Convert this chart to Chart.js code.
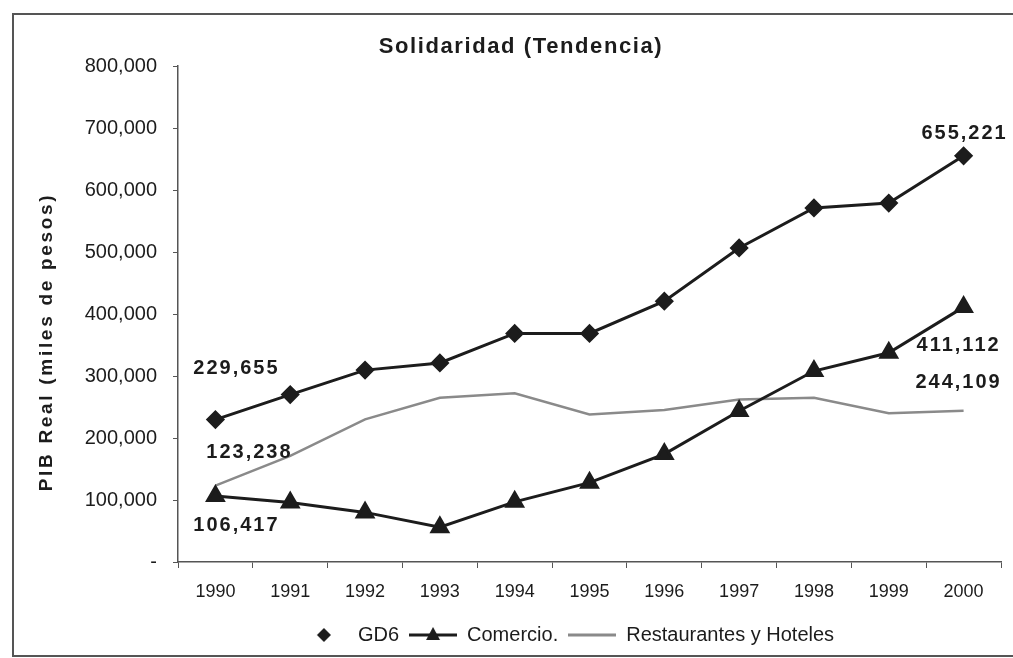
<!DOCTYPE html>
<html>
<head>
<meta charset="utf-8">
<script src="https://cdn.jsdelivr.net/npm/chart.js@4/dist/chart.umd.min.js"></script>
<style>
  html, body { margin: 0; padding: 0; background: #fff; }
  #wrap { width: 1013px; height: 658px; position: relative; }
</style>
</head>
<body>
<div id="wrap"><canvas id="chart" width="1013" height="658"></canvas></div>
<script>
const years = ['1990', '1991', '1992', '1993', '1994', '1995', '1996', '1997', '1998', '1999', '2000'];
const gd6 = [229655, 270000, 309500, 321000, 368600, 368600, 420600, 506500, 571000, 579000, 655221];
const comercio = [106417, 96000, 80000, 56000, 97000, 128000, 174000, 243600, 308000, 337500, 411112];
const restaurantes = [123238, 171000, 230000, 265000, 272000, 238000, 245000, 262000, 265000, 240000, 244109];
const yTicks = [0, 100000, 200000, 300000, 400000, 500000, 600000, 700000, 800000];

const FONT = '"Liberation Sans", Arial, sans-serif';
const INK = '#1c1c1c';
const GREY = '#8a8a8a';

// legend swatches, 48px wide like the line samples
function swatch(kind) {
    const c = document.createElement('canvas');
    c.width = 48; c.height = 20;
    const g = c.getContext('2d');
    if (kind !== 'diamond') {
        g.strokeStyle = kind === 'grey' ? GREY : INK;
        g.lineWidth = 3;
        g.beginPath(); g.moveTo(0, 10); g.lineTo(48, 10); g.stroke();
    }
    g.fillStyle = INK;
    if (kind === 'diamond') {
        g.beginPath(); g.moveTo(24, 3); g.lineTo(31, 10); g.lineTo(24, 17); g.lineTo(17, 10); g.closePath(); g.fill();
    } else if (kind === 'triangle') {
        g.beginPath(); g.moveTo(24, 2); g.lineTo(31, 15); g.lineTo(17, 15); g.closePath(); g.fill();
    }
    return c;
}
const swatches = [swatch('diamond'), swatch('triangle'), swatch('grey')];

// value labels next to the first and last points
const valueLabels = [
    {ds: 0, i: 0, dx: 21, dy: -51},
    {ds: 2, i: 0, dx: 34, dy: -33},
    {ds: 1, i: 0, dx: 21, dy: 29},
    {ds: 0, i: 10, dx: 1, dy: -22},
    {ds: 1, i: 10, dx: -5, dy: 38},
    {ds: 2, i: 10, dx: -5, dy: -28}
];

const frameAndText = {
    id: 'frameAndText',
    afterLayout(chart) {
        // legend sits centred under the plot, not the whole frame
        chart.legend.left = 130;
    },
    beforeDraw(chart) {
        const ctx = chart.ctx;
        ctx.save();
        ctx.fillStyle = '#fff';
        ctx.fillRect(0, 0, chart.width, chart.height);
        ctx.strokeStyle = '#555';
        ctx.lineWidth = 2;
        ctx.strokeRect(13, 14, chart.width + 10, 642);
        ctx.restore();
    },
    afterDraw(chart) {
        const ctx = chart.ctx;
        ctx.save();
        ctx.fillStyle = INK;
        ctx.textAlign = 'center';
        ctx.textBaseline = 'middle';

        ctx.font = 'bold 22px ' + FONT;
        ctx.letterSpacing = '1.6px';
        ctx.fillText('Solidaridad (Tendencia)', 521, 47);

        ctx.save();
        ctx.translate(47, 342);
        ctx.rotate(-Math.PI / 2);
        ctx.font = 'bold 19px ' + FONT;
        ctx.letterSpacing = '2.7px';
        ctx.fillText('PIB Real (miles de pesos)', 0, 0);
        ctx.restore();

        ctx.font = 'bold 20px ' + FONT;
        ctx.letterSpacing = '2px';
        valueLabels.forEach(l => {
            const pt = chart.getDatasetMeta(l.ds).data[l.i];
            const v = chart.data.datasets[l.ds].data[l.i];
            ctx.fillText(v.toLocaleString('en-US'), pt.x + l.dx, pt.y + l.dy);
        });
        ctx.restore();
    }
};

new Chart(document.getElementById('chart'), {
    type: 'line',
    data: {
        labels: years,
        datasets: [
            {
                label: 'GD6',
                data: gd6,
                borderColor: INK,
                backgroundColor: INK,
                borderWidth: 3,
                pointStyle: 'rectRot',
                pointRadius: 7.5,
                tension: 0
            },
            {
                label: 'Comercio.',
                data: comercio,
                borderColor: INK,
                backgroundColor: INK,
                borderWidth: 3,
                pointStyle: 'triangle',
                pointRadius: 9,
                tension: 0
            },
            {
                label: 'Restaurantes y Hoteles',
                data: restaurantes,
                borderColor: GREY,
                backgroundColor: GREY,
                borderWidth: 2.5,
                pointRadius: 0,
                tension: 0
            }
        ]
    },
    options: {
        responsive: false,
        animation: false,
        layout: {
            padding: {top: 66, left: 0, right: 9, bottom: 3}
        },
        scales: {
            x: {
                offset: true,
                grid: {
                    offset: true,
                    drawOnChartArea: false,
                    tickLength: 6,
                    tickColor: '#555'
                },
                border: {color: '#555', width: 1.5},
                ticks: {
                    color: INK,
                    padding: 13,
                    font: {family: FONT, size: 18}
                },
                afterFit(scale) { scale.height = 53; }
            },
            y: {
                min: 0,
                max: 800000,
                afterBuildTicks(scale) {
                    scale.ticks = yTicks.map(v => ({value: v}));
                },
                grid: {
                    drawOnChartArea: false,
                    tickLength: 5,
                    tickColor: '#555'
                },
                border: {color: '#555', width: 1.5},
                ticks: {
                    color: INK,
                    padding: 16,
                    font: {family: FONT, size: 20},
                    callback: v => v === 0 ? '-' : v.toLocaleString('en-US')
                },
                afterFit(scale) { scale.width = 178; }
            }
        },
        plugins: {
            legend: {
                position: 'bottom',
                labels: {
                    usePointStyle: true,
                    pointStyleWidth: 48,
                    padding: 10,
                    color: INK,
                    font: {family: FONT, size: 20},
                    generateLabels(chart) {
                        return chart.data.datasets.map((ds, i) => ({
                            text: ds.label,
                            pointStyle: swatches[i],
                            fillStyle: 'transparent',
                            strokeStyle: 'transparent',
                            lineWidth: 0,
                            fontColor: INK,
                            datasetIndex: i
                        }));
                    }
                }
            },
            tooltip: {enabled: false}
        }
    },
    plugins: [frameAndText]
});
</script>
</body>
</html>
